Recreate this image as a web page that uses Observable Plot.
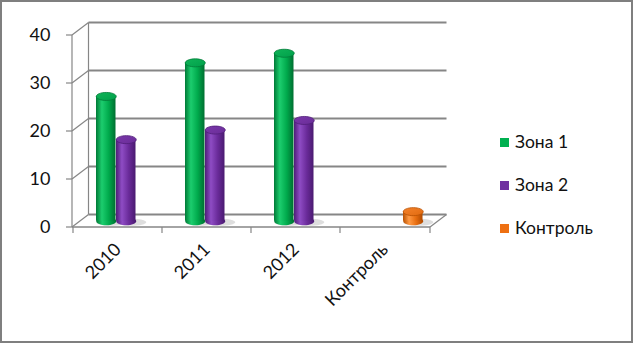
<!DOCTYPE html>
<html><head><meta charset="utf-8">
<script src="https://cdn.jsdelivr.net/npm/d3@7"></script>
<script src="https://cdn.jsdelivr.net/npm/@observablehq/plot@0.6"></script>
<style>
body{margin:0;background:#fff;}
#wrap{position:relative;width:633px;height:343px;overflow:hidden;font-family:Lato,"Open Sans",sans-serif;}
#wrap svg{position:absolute;left:0;top:0;}
#border{position:absolute;left:0;top:0;width:633px;height:343px;box-sizing:border-box;border:2px solid #7f7f7f;}
#legend{position:absolute;left:500px;top:120px;font-size:17.5px;color:#111;}
#legend .row{height:43px;display:flex;align-items:center;line-height:1;}
#legend .sw{width:9px;height:9px;margin-right:6px;margin-top:1px;}
</style></head><body>
<div id="wrap"><div id="border"></div><div id="legend"></div></div>
<script>
const categories = ["2010", "2011", "2012", "Контроль"];
const seriesNames = ["Зона 1", "Зона 2", "Контроль"];
const zone1 = [26, 33, 35, null];
const zone2 = [17, 19, 21, null];
const control = [null, null, null, 2];
const yTicks = [0, 10, 20, 30, 40];
const colors = ["#00B050", "#7030A0", "#EE7012"];

const seriesValues = [zone1, zone2, control];
const data = [];
categories.forEach((c, i) => seriesValues.forEach((arr, k) => {
  if (arr[i] != null) data.push({category: c, series: seriesNames[k], value: arr[i], k});
}));

const DX = 16.5, DY = -12.5;       // depth of the 3D box
const BW = 20;                      // cylinder width
const gridColor = "#868686";

const ellipse = {
  draw(ctx) {
    const rx = BW / 2, ry = 4, m = 0.5523;
    ctx.moveTo(-rx, 0);
    ctx.bezierCurveTo(-rx, -ry * m, -rx * m, -ry, 0, -ry);
    ctx.bezierCurveTo(rx * m, -ry, rx, -ry * m, rx, 0);
    ctx.bezierCurveTo(rx, ry * m, rx * m, ry, 0, ry);
    ctx.bezierCurveTo(-rx * m, ry, -rx, ry * m, -rx, 0);
    ctx.closePath();
  }
};
const shadow = {
  draw(ctx) {
    const rx = BW * 0.75, ry = 3.5, m = 0.5523;
    ctx.moveTo(-rx, 0);
    ctx.bezierCurveTo(-rx, -ry * m, -rx * m, -ry, 0, -ry);
    ctx.bezierCurveTo(rx * m, -ry, rx, -ry * m, rx, 0);
    ctx.bezierCurveTo(rx, ry * m, rx * m, ry, 0, ry);
    ctx.bezierCurveTo(-rx * m, ry, -rx, ry * m, -rx, 0);
    ctx.closePath();
  }
};

function frame3d(index, scales, values, dims) {
  const {x, y} = scales;
  const x0 = dims.marginLeft, x1 = dims.width - dims.marginRight;
  const g = d3.create("svg:g").attr("stroke", gridColor).attr("fill", "none");
  const line = (a, b, c, d, w = 1.5) => g.append("line").attr("x1", a).attr("y1", b).attr("x2", c).attr("y2", d).attr("stroke-width", w);
  const yTop = y(d3.max(yTicks)), yBot = y(0);
  line(x0 + DX, yBot + DY, x0 + DX, yTop + DY, 1.2);
  for (const t of yTicks) {
    const yy = y(t);
    line(x0 + DX, yy + DY, x1 + DX, yy + DY, 2);
    line(x0, yy, x0 + DX, yy + DY, 1.2);
    line(x0 - 6, yy, x0, yy, 1.2);
  }
  line(x0, yBot, x0, yTop, 1.2);
  line(x0, yBot, x1, yBot, 1.5);
  line(x1, yBot, x1 + DX, yBot + DY, 1.2);
  const bounds = categories.map(c => x(c)).concat([x1]);
  for (const b of bounds) line(b, yBot, b, yBot + 6, 1.2);
  return g.node();
}

const bandW = (633 - 72 - 203) / categories.length;
const inset = (bandW - BW) / 2;

const marks = [frame3d];
seriesNames.forEach((s, k) => {
  const d = data.filter(r => r.k === k);
  const dx = (k - 1) * BW + DX / 2, dy = DY / 2;
  marks.push(
    Plot.dot(d, {x: "category", y: 0, symbol: shadow, r: 5, fill: "#bdbdbd", fillOpacity: 0.5, stroke: "none", dx: dx + 5, dy: dy + 1}),
    Plot.dot(d, {x: "category", y: 0, symbol: ellipse, r: 5, fill: `url(#cyl${k})`, stroke: "none", dx, dy}),
    Plot.barY(d, {x: "category", y: "value", fill: `url(#cyl${k})`, insetLeft: inset, insetRight: inset, dx, dy}),
    Plot.dot(d, {x: "category", y: "value", symbol: ellipse, r: 5, fill: `url(#cap${k})`, stroke: `url(#rim${k})`, strokeWidth: 0.8, dx, dy})
  );
});

const chart = Plot.plot({
  width: 633,
  height: 343,
  marginLeft: 72,
  marginRight: 203,
  marginTop: 35,
  marginBottom: 116,
  style: {fontFamily: "Lato, 'Open Sans', sans-serif", fontSize: "18px", color: "#111", background: "transparent"},
  x: {domain: categories, padding: 0, label: null, tickSize: 0, tickPadding: 19, tickRotate: -45},
  y: {domain: [0, 40], ticks: yTicks, label: null, tickSize: 0, tickPadding: 22},
  marks
});

const defs = d3.select(chart).insert("defs", ":first-child");
const shades = [
  ["#007a37", "#1ccd6e", "#00aa4c", "#006f31"],
  ["#4f1d78", "#8e4cc4", "#6a2b9a", "#4a1a70"],
  ["#b85000", "#ff9a45", "#e86e10", "#b04a00"]
];
const caps = [["#10b458", "#00a04a"], ["#7a38aa", "#6a2c98"], ["#f5822a", "#e06a10"]];
const rims = ["#007a37", "#4f1d78", "#b85000"];
shades.forEach((s, k) => {
  const lg = defs.append("linearGradient").attr("id", `cyl${k}`).attr("x1", 0).attr("x2", 1).attr("y1", 0).attr("y2", 0);
  [[0, s[0]], [0.3, s[1]], [0.65, s[2]], [1, s[3]]].forEach(([o, c]) => lg.append("stop").attr("offset", o).attr("stop-color", c));
  const cg = defs.append("linearGradient").attr("id", `cap${k}`).attr("x1", 0).attr("x2", 1).attr("y1", 0).attr("y2", 1);
  cg.append("stop").attr("offset", 0).attr("stop-color", caps[k][0]);
  cg.append("stop").attr("offset", 1).attr("stop-color", caps[k][1]);
  const rg = defs.append("linearGradient").attr("id", `rim${k}`);
  rg.append("stop").attr("offset", 0).attr("stop-color", rims[k]);
  rg.append("stop").attr("offset", 1).attr("stop-color", rims[k]);
});

const wrap = document.getElementById("wrap");
wrap.insertBefore(chart, wrap.firstChild);

const legend = d3.select("#legend");
seriesNames.forEach((s, k) => {
  const row = legend.append("div").attr("class", "row");
  row.append("div").attr("class", "sw").style("background", colors[k]);
  row.append("span").text(s);
});
</script>
</body></html>
